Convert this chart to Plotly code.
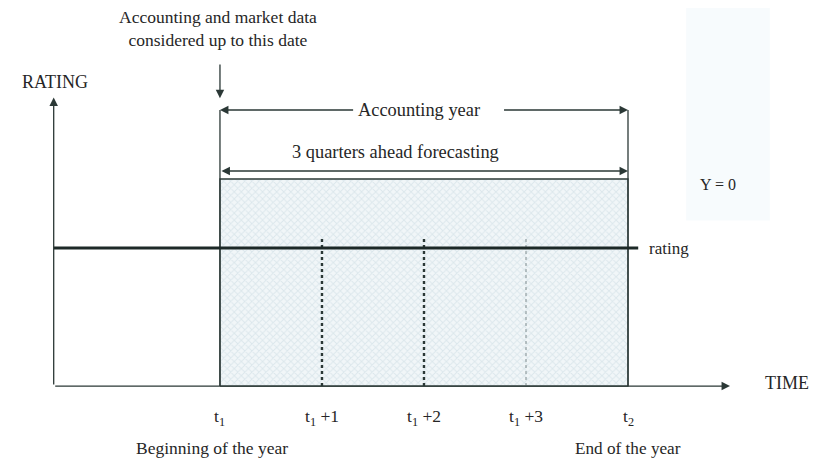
import plotly.graph_objects as go

# ---- data (time in quarters from t1, rating in arbitrary units) ----
quarters = [0, 1, 2, 3, 4]
tick_labels = ["t<sub>1</sub>", "t<sub>1</sub> +1", "t<sub>1</sub> +2", "t<sub>1</sub> +3", "t<sub>2</sub>"]
period_labels = ["Beginning of the year", "End of the year"]
rating_level = 1.0
forecast_top = 1.5
axis_start = -1.63
axis_end = 5.0
axis_top = 2.09
rating_line_end = 4.1
dotted_top = 1.08
year_arrow_y = 2.0
forecast_arrow_y = 1.558

FONT = "Liberation Serif, Times New Roman, serif"
LINE = "#2b3836"

fig = go.Figure()

# faint scan tint on the right
fig.add_shape(type="rect", xref="x", yref="y", x0=4.57, x1=5.39, y0=1.2, y1=2.8,
              fillcolor="#f7fbfd", line_width=0, layer="below")

# hatched forecasting area
fig.add_trace(go.Scatter(
    x=[quarters[0], quarters[-1], quarters[-1], quarters[0], quarters[0]],
    y=[0, 0, forecast_top, forecast_top, 0],
    mode="lines", fill="toself", fillcolor="#f1f6f8",
    fillpattern=dict(shape="x", fgcolor="#c5d8e0", bgcolor="#f1f6f8", size=5, solidity=0.35),
    line=dict(color=LINE, width=1.3), hoverinfo="skip", showlegend=False))

# vertical boundaries t1 and t2 extended up to accounting-year arrow
for q in (quarters[0], quarters[-1]):
    fig.add_trace(go.Scatter(x=[q, q], y=[0, year_arrow_y], mode="lines",
                             line=dict(color=LINE, width=1.3), hoverinfo="skip", showlegend=False))

# quarter dotted lines
for q, w, c in zip(quarters[1:4], [2.4, 2.4, 1.0], [LINE, LINE, "#7d8a8c"]):
    fig.add_trace(go.Scatter(x=[q, q], y=[0, dotted_top], mode="lines",
                             line=dict(color=c, width=w, dash="dot"), hoverinfo="skip", showlegend=False))

# rating line
fig.add_trace(go.Scatter(x=[axis_start, rating_line_end], y=[rating_level, rating_level], mode="lines",
                         line=dict(color="#1d2927", width=3), hoverinfo="skip", showlegend=False))

def arrow(x0, y0, x1, y1, side="end"):
    fig.add_annotation(x=x1, y=y1, ax=x0, ay=y0, xref="x", yref="y", axref="x", ayref="y",
                       showarrow=True, arrowhead=2, arrowsize=1.3, arrowwidth=1.3,
                       arrowcolor=LINE, arrowside=side, text="")

# axes with arrows
arrow(axis_start, 0, axis_end, 0)
arrow(axis_start, 0, axis_start, axis_top)
# data-cutoff arrow
arrow(quarters[0], 2.34, quarters[0], 2.085)
# accounting year arrows
arrow(1.32, year_arrow_y, quarters[0], year_arrow_y)
arrow(2.77, year_arrow_y, quarters[-1], year_arrow_y)
# forecasting double arrow
arrow(quarters[0], forecast_arrow_y, quarters[-1], forecast_arrow_y, side="end+start")

def text(x, y, s, size=16, xanchor="center"):
    fig.add_annotation(x=x, y=y, xref="x", yref="y", text=s, showarrow=False,
                       xanchor=xanchor, yanchor="middle",
                       font=dict(family=FONT, size=size, color="#262626"))

text(-0.02, 2.587, "Accounting and market data<br>considered up to this date", size=17.5)
text(-1.617, 2.203, "RATING", size=18)
text(1.955, year_arrow_y, "Accounting year", size=18.4)
text(1.72, 1.696, "3 quarters ahead forecasting", size=18.4)
text(4.88, 1.457, "Y = 0")
text(4.19, rating_level, "rating", xanchor="left", size=17)
text(5.56, 0.02, "TIME", size=18)
for q, lab in zip(quarters, tick_labels):
    text(q, -0.225, lab, size=17.5)
text(-0.08, -0.449, period_labels[0], size=17.5)
text(4.0, -0.449, period_labels[1], size=17.2)

# ranges chosen so the page (with the browser's 8px body margin) lines up with the reference
fig.update_layout(
    width=823, height=465, margin=dict(l=0, r=0, t=0, b=0),
    paper_bgcolor="white", plot_bgcolor="white",
    xaxis=dict(range=[-2.078, 5.99], visible=False, fixedrange=True),
    yaxis=dict(range=[-0.630, 2.739], visible=False, fixedrange=True),
    showlegend=False,
)
fig.write_html("out.html")
